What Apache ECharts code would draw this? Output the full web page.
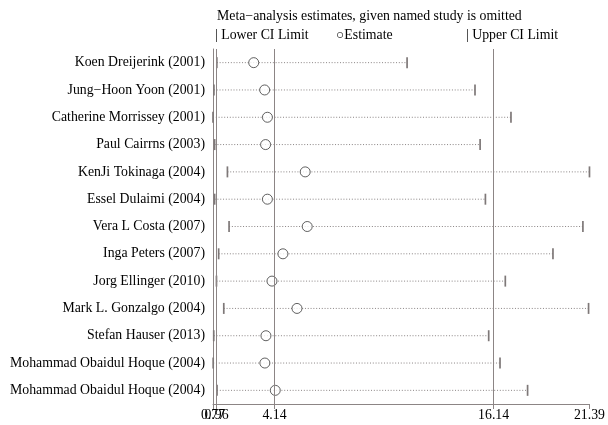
<!DOCTYPE html>
<html>
<head>
<meta charset="utf-8">
<script src="https://cdn.jsdelivr.net/npm/echarts@6/dist/echarts.min.js"></script>
<style>html,body{margin:0;padding:0;background:#fff}#c{width:608px;height:425px}</style>
</head>
<body>
<div id="c"></div>
<script>
var studies = [
  'Koen Dreijerink (2001)',
  'Jung\u2212Hoon Yoon (2001)',
  'Catherine Morrissey (2001)',
  'Paul Cairrns (2003)',
  'KenJi Tokinaga (2004)',
  'Essel Dulaimi (2004)',
  'Vera L Costa (2007)',
  'Inga Peters (2007)',
  'Jorg Ellinger (2010)',
  'Mark L. Gonzalgo (2004)',
  'Stefan Hauser (2013)',
  'Mohammad Obaidul Hoque (2004)',
  'Mohammad Obaidul Hoque (2004)'
];
var lowerCI = [0.98, 0.82, 0.77, 0.86, 1.56, 0.86, 1.65, 1.08, 0.96, 1.36, 0.81, 0.78, 0.99];
var estimate = [3.00, 3.60, 3.75, 3.65, 5.82, 3.75, 5.93, 4.60, 4.00, 5.37, 3.67, 3.61, 4.18];
var upperCI = [11.40, 15.12, 17.09, 15.40, 21.39, 15.69, 21.03, 19.39, 16.78, 21.34, 15.87, 16.49, 18.00];
var tickValues = [0.77, 4.14, 16.14, 21.39];
var extraTickValues = [0.96];
var refLines = [0.96, 4.14, 16.14];
var titleText = 'Meta\u2212analysis estimates, given named study is omitted';

var serif = 'Liberation Serif';
var lineGrey = '#8c8585';
var fs = 13.8;
var xMin = 0.77, xMax = 21.39;

var ciData = studies.map(function (s, i) { return [lowerCI[i], upperCI[i], i]; });
var estData = studies.map(function (s, i) { return [estimate[i], i]; });

function fmt(v) { return v.toFixed(2); }

var chart = echarts.init(document.getElementById('c'), null, {renderer: 'canvas'});
chart.setOption({
  animation: false,
  backgroundColor: '#fff',
  grid: {left: 213, right: 18, top: 49, bottom: 21, containLabel: false},
  xAxis: [{
    type: 'value', min: xMin, max: xMax,
    axisLine: {show: true, lineStyle: {color: lineGrey, width: 1}},
    axisTick: {show: true, customValues: tickValues, length: 5, lineStyle: {color: lineGrey}},
    axisLabel: {customValues: tickValues, color: '#000', fontFamily: serif, fontSize: fs, margin: 4,
      hideOverlap: false, showMinLabel: true, showMaxLabel: true, formatter: fmt},
    splitLine: {show: false}
  }, {
    type: 'value', min: xMin, max: xMax, position: 'bottom',
    axisLine: {show: false},
    axisTick: {show: true, customValues: extraTickValues, length: 5, lineStyle: {color: lineGrey}},
    axisLabel: {customValues: extraTickValues, color: '#000', fontFamily: serif, fontSize: fs, margin: 4,
      hideOverlap: false, formatter: fmt},
    splitLine: {show: false}
  }],
  yAxis: {
    type: 'category', data: studies, inverse: true,
    axisLine: {show: true, lineStyle: {color: lineGrey, width: 1}},
    axisTick: {show: false},
    axisLabel: {color: '#000', fontFamily: serif, fontSize: fs, margin: 8},
    splitLine: {show: false}
  },
  graphic: [
    {type: 'text', left: 217, top: 9, style: {text: titleText, fill: '#000', font: fs + 'px "Liberation Serif"'}},
    {type: 'text', left: 215, top: 28, style: {text: '| Lower CI Limit', fill: '#000', font: fs + 'px "Liberation Serif"'}},
    {type: 'text', left: 336, top: 28, style: {text: '\u25CBEstimate', fill: '#000', font: fs + 'px "Liberation Serif"'}},
    {type: 'text', left: 466, top: 28, style: {text: '| Upper CI Limit', fill: '#000', font: fs + 'px "Liberation Serif"'}}
  ],
  series: [
    {
      type: 'custom',
      name: 'CI',
      data: ciData,
      dimensions: ['lo', 'hi', 'row'],
      encode: {x: ['lo', 'hi'], y: 'row'},
      z: 2,
      renderItem: function (params, api) {
        var p1 = api.coord([api.value(0), api.value(2)]);
        var p2 = api.coord([api.value(1), api.value(2)]);
        var h = 5.5;
        return {
          type: 'group',
          children: [
            {type: 'line', shape: {x1: p1[0], y1: p1[1], x2: p2[0], y2: p2[1]},
              style: {stroke: '#8a8484', lineWidth: 1, lineDash: [1, 1.8]}},
            {type: 'line', shape: {x1: p1[0], y1: p1[1] - h, x2: p1[0], y2: p1[1] + h},
              style: {stroke: '#7e7878', lineWidth: 1.7}},
            {type: 'line', shape: {x1: p2[0], y1: p2[1] - h, x2: p2[0], y2: p2[1] + h},
              style: {stroke: '#7e7878', lineWidth: 1.7}}
          ]
        };
      }
    },
    {
      type: 'scatter',
      name: 'Estimate',
      data: estData,
      symbol: 'circle',
      symbolSize: 10,
      z: 3,
      itemStyle: {color: '#fff', borderColor: '#3a3a3a', borderWidth: 1},
      markLine: {
        silent: true, symbol: 'none', label: {show: false},
        lineStyle: {color: lineGrey, width: 1, type: 'solid'},
        data: refLines.map(function (v) { return {xAxis: v}; })
      }
    }
  ]
});
</script>
</body>
</html>
